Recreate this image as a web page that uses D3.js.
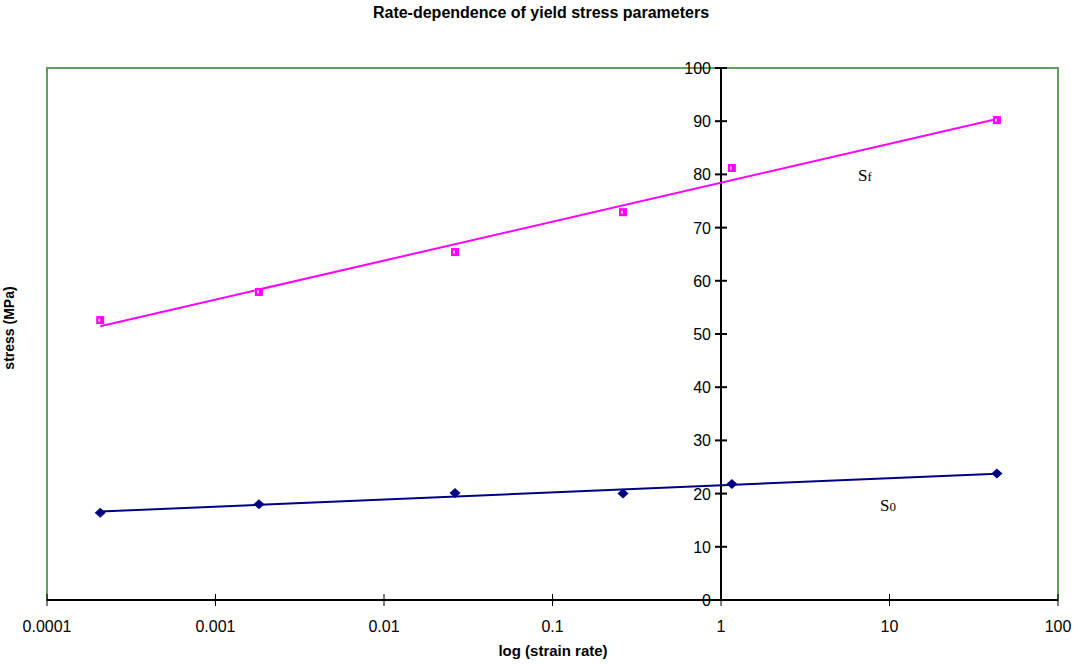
<!DOCTYPE html>
<html>
<head>
<meta charset="utf-8">
<script src="https://cdn.jsdelivr.net/npm/d3@7"></script>
<style>
  html, body { margin: 0; padding: 0; background: #fff; }
  svg { display: block; }
  text { font-family: "Liberation Sans", Arial, sans-serif; }
</style>
</head>
<body>
<svg id="chart" width="1082" height="664"></svg>
<script>
// strain rates (1/s) and the fitted yield stress parameters (MPa)
const strainRate = [0.000207, 0.00181, 0.0264, 0.262, 1.16, 43.4];
const sfValues   = [52.6, 57.9, 65.4, 72.9, 81.2, 90.2];
const s0Values   = [16.4, 18.0, 20.1, 20.0, 21.8, 23.8];
const xTicks = [0.0001, 0.001, 0.01, 0.1, 1, 10, 100];
const yTicks = [0, 10, 20, 30, 40, 50, 60, 70, 80, 90, 100];

const svg = d3.select("#chart");
const plotL = 47, plotR = 1058, plotT = 68, plotB = 600;

const x = d3.scaleLog().domain([0.0001, 100]).range([plotL, plotR]);
const y = d3.scaleLinear().domain([0, 100]).range([plotB, plotT]);

// plot frame
svg.append("rect")
  .attr("x", plotL).attr("y", plotT)
  .attr("width", plotR - plotL).attr("height", plotB - plotT)
  .attr("fill", "none").attr("stroke", "#5f9e5f").attr("stroke-width", 2);

// title
svg.append("text").attr("x", 541).attr("y", 18)
  .attr("text-anchor", "middle").attr("font-weight", "bold").attr("font-size", 16)
  .text("Rate-dependence of yield stress parameters");

// x axis along y = 0
const xAxis = svg.append("g").attr("transform", `translate(0,${y(0)})`);
xAxis.append("line").attr("x1", plotL).attr("x2", plotR)
  .attr("stroke", "#000").attr("stroke-width", 2);
xAxis.selectAll("line.tick").data(xTicks).join("line").attr("class", "tick")
  .attr("x1", d => x(d)).attr("x2", d => x(d)).attr("y1", -6).attr("y2", 6)
  .attr("stroke", "#000").attr("stroke-width", 1);
xAxis.selectAll("text").data(xTicks).join("text")
  .attr("x", d => x(d)).attr("y", 32).attr("text-anchor", "middle")
  .attr("font-size", 16).text(d => String(d));

svg.append("text").attr("x", 553).attr("y", 656).attr("text-anchor", "middle")
  .attr("font-weight", "bold").attr("font-size", 15).text("log (strain rate)");

// y axis crossing at strain rate = 1
const yAxis = svg.append("g").attr("transform", `translate(${x(1)},0)`);
yAxis.append("line").attr("y1", plotT).attr("y2", plotB)
  .attr("stroke", "#000").attr("stroke-width", 2);
yAxis.selectAll("line.tick").data(yTicks).join("line").attr("class", "tick")
  .attr("x1", -6).attr("x2", 6).attr("y1", d => y(d)).attr("y2", d => y(d))
  .attr("stroke", "#000").attr("stroke-width", 2);
yAxis.selectAll("text").data(yTicks).join("text")
  .attr("x", -10).attr("y", d => y(d) + 6).attr("text-anchor", "end")
  .attr("font-size", 16).text(d => d);

svg.append("text").attr("transform", `translate(14,${(plotT + plotB) / 2 - 6}) rotate(-90)`)
  .attr("text-anchor", "middle").attr("font-weight", "bold").attr("font-size", 14)
  .text("stress (MPa)");

// least-squares logarithmic trend line through each series
function trend(vals) {
  const lx = strainRate.map(Math.log10);
  const mx = d3.mean(lx), my = d3.mean(vals);
  const b = d3.sum(lx, (v, i) => (v - mx) * (vals[i] - my)) / d3.sum(lx, v => (v - mx) ** 2);
  const a = my - b * mx;
  return d3.extent(strainRate).map(r => [r, a + b * Math.log10(r)]);
}

const line = d3.line().x(d => x(d[0])).y(d => y(d[1]));

svg.append("path").datum(trend(sfValues)).attr("d", line)
  .attr("fill", "none").attr("stroke", "#ff00ff").attr("stroke-width", 2);
svg.append("path").datum(trend(s0Values)).attr("d", line)
  .attr("fill", "none").attr("stroke", "#000080").attr("stroke-width", 2);

// Sf markers: filled squares with a small light centre
svg.selectAll("rect.sf").data(strainRate).join("rect").attr("class", "sf")
  .attr("x", d => x(d) - 4).attr("y", (d, i) => y(sfValues[i]) - 4)
  .attr("width", 8).attr("height", 8).attr("fill", "#ff00ff");
svg.selectAll("rect.sfc").data(strainRate).join("rect").attr("class", "sfc")
  .attr("x", d => x(d) - 2).attr("y", (d, i) => y(sfValues[i]) - 1.5)
  .attr("width", 2).attr("height", 3).attr("fill", "#ffc8ff");

// S0 markers: diamonds
const diamond = "M0,-5L5.5,0L0,5L-5.5,0Z";
svg.selectAll("path.s0").data(strainRate).join("path").attr("class", "s0")
  .attr("transform", (d, i) => `translate(${x(d)},${y(s0Values[i])})`)
  .attr("d", diamond).attr("fill", "#000080");

// series labels
function label(px, py, main, sub) {
  const t = svg.append("text").attr("x", px).attr("y", py)
    .style("font-family", "'Liberation Serif', 'Times New Roman', serif");
  t.append("tspan").attr("font-size", 17).text(main);
  t.append("tspan").attr("font-size", 13).text(sub);
}
label(858, 181, "S", "f");
label(880, 511, "S", "0");
</script>
</body>
</html>
